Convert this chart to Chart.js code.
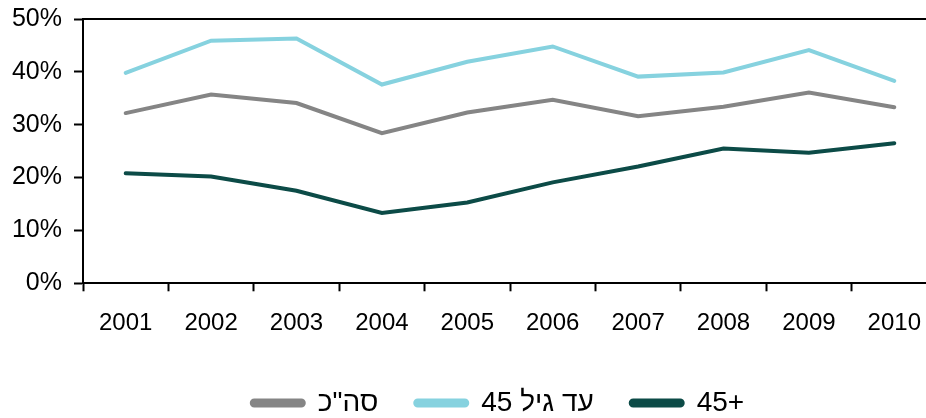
<!DOCTYPE html>
<html lang="he">
<head>
<meta charset="utf-8">
<title>Chart</title>
<script src="https://cdn.jsdelivr.net/npm/chart.js@4.4.0/dist/chart.umd.min.js"></script>
<style>
  html, body { margin: 0; padding: 0; background: #fff; overflow: hidden; }
  #wrap { position: relative; width: 926px; height: 418px; overflow: hidden; }
  /* canvas is bigger than the window: the plot runs off the right edge like the reference */
  #chart { position: absolute; left: 0; top: 0; }
</style>
</head>
<body>
<div id="wrap">
  <canvas id="chart" width="996" height="427"></canvas>
</div>
<script>
// years on the x axis
const years = ['2001', '2002', '2003', '2004', '2005', '2006', '2007', '2008', '2009', '2010'];

// series values, in percent
const total = [32.2, 35.7, 34.1, 28.4, 32.3, 34.7, 31.6, 33.4, 36.1, 33.3];
const under45 = [39.8, 45.9, 46.3, 37.6, 41.9, 44.8, 39.1, 39.9, 44.1, 38.3];
const over45 = [20.8, 20.2, 17.5, 13.3, 15.3, 19.1, 22.1, 25.5, 24.7, 26.5];

// legend names
const seriesNames = ['סה"כ', 'עד גיל 45', '45+'];
const seriesColors = ['#858585', '#86d2df', '#0c4b47'];

const yTicks = [0, 10, 20, 30, 40, 50];

const font = "'Liberation Sans', Arial, sans-serif";

function line(label, data, color) {
  return {
    label: label,
    data: data,
    borderColor: color,
    backgroundColor: color,
    borderWidth: 4,
    pointRadius: 0,
    tension: 0,
    fill: false,
    borderCapStyle: 'round'
  };
}

const ctx = document.getElementById('chart').getContext('2d');

const chart = new Chart(ctx, {
  type: 'line',
  data: {
    labels: years,
    datasets: [
      line(seriesNames[0], total, seriesColors[0]),
      line(seriesNames[1], under45, seriesColors[1]),
      line(seriesNames[2], over45, seriesColors[2])
    ]
  },
  options: {
    responsive: false,
    maintainAspectRatio: false,
    animation: false,
    layout: { padding: 0 },
    plugins: {
      tooltip: { enabled: false },
      legend: {
        position: 'bottom',
        labels: {
          color: '#000',
          font: { family: font, size: 28 },
          boxWidth: 52,
          boxHeight: 5,
          useBorderRadius: true,
          borderRadius: 2.5,
          padding: 37
        }
      }
    },
    scales: {
      x: {
        type: 'category',
        offset: true,
        afterFit: s => { s.height = 68.7; },
        grid: {
          offset: true,
          drawOnChartArea: false,
          drawTicks: true,
          tickLength: 8,
          tickWidth: 2,
          tickColor: '#000'
        },
        border: { display: true, color: '#000', width: 2 },
        ticks: {
          color: '#000',
          font: { family: font, size: 24 },
          padding: 18,
          maxRotation: 0,
          autoSkip: false
        }
      },
      // top edge of the plot box
      x2: {
        type: 'category',
        labels: years,
        position: 'top',
        offset: true,
        grid: { display: false, drawTicks: false },
        border: { display: true, color: '#000', width: 2 },
        ticks: { display: false }
      },
      y: {
        min: 0,
        max: 50,
        afterFit: s => { s.width = 83; s.paddingTop = 19; },
        afterBuildTicks: s => { s.ticks = yTicks.map(v => ({ value: v })); },
        grid: {
          drawOnChartArea: false,
          drawTicks: true,
          tickLength: 9,
          tickWidth: 2,
          tickColor: '#000'
        },
        border: { display: true, color: '#000', width: 2 },
        ticks: {
          color: '#000',
          font: { family: font, size: 25 },
          padding: 12,
          callback: v => v + '%'
        }
      },
      // empty right-hand box, so the plot stops where the reference crop does
      // while the legend stays centred on the full canvas
      yPad: {
        type: 'linear',
        position: 'right',
        afterFit: s => { s.width = 59; },
        grid: { display: false, drawTicks: false },
        border: { display: false },
        ticks: { display: false }
      }
    }
  }
});
</script>
</body>
</html>
